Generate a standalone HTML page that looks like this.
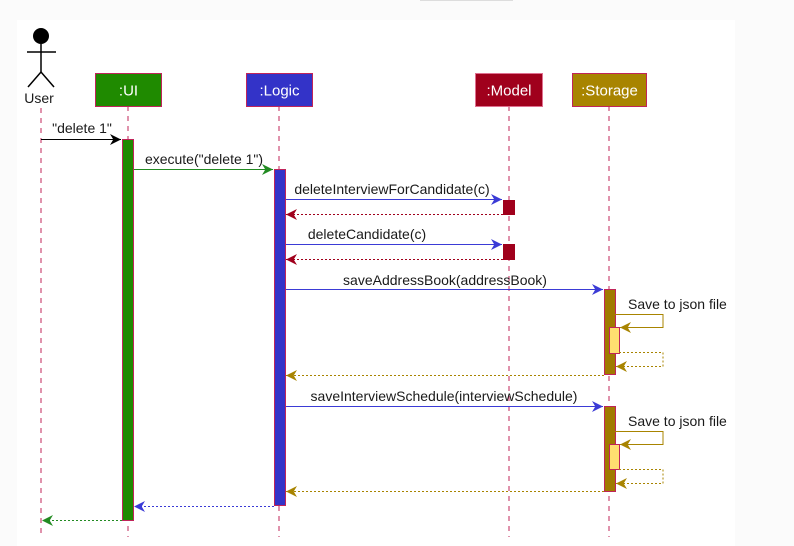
<!DOCTYPE html>
<html><head><meta charset="utf-8"><style>
html,body{margin:0;padding:0;background:#fbfbfb;width:794px;height:546px;overflow:hidden}
svg{display:block}
text{font-family:"Liberation Sans",sans-serif;font-size:14px;fill:#1a1a1a}
</style></head><body>
<svg width="794" height="546" viewBox="0 0 794 546" xmlns="http://www.w3.org/2000/svg">
<defs>
<marker id="ak" viewBox="0 0 10 10" refX="10" refY="5" markerWidth="11" markerHeight="11" orient="auto" markerUnits="userSpaceOnUse"><path d="M0,0 L10,5 L0,10 L3,5 Z" fill="#000"/></marker>
<marker id="ag" viewBox="0 0 10 10" refX="10" refY="5" markerWidth="11" markerHeight="11" orient="auto" markerUnits="userSpaceOnUse"><path d="M0,0 L10,5 L0,10 L3,5 Z" fill="#228b22"/></marker>
<marker id="ab" viewBox="0 0 10 10" refX="10" refY="5" markerWidth="11" markerHeight="11" orient="auto" markerUnits="userSpaceOnUse"><path d="M0,0 L10,5 L0,10 L3,5 Z" fill="#3b3bd6"/></marker>
<marker id="ar" viewBox="0 0 10 10" refX="10" refY="5" markerWidth="11" markerHeight="11" orient="auto" markerUnits="userSpaceOnUse"><path d="M0,0 L10,5 L0,10 L3,5 Z" fill="#a0001c"/></marker>
<marker id="ao" viewBox="0 0 10 10" refX="10" refY="5" markerWidth="11" markerHeight="11" orient="auto" markerUnits="userSpaceOnUse"><path d="M0,0 L10,5 L0,10 L3,5 Z" fill="#a88400"/></marker>
</defs>
<rect x="0" y="0" width="794" height="546" fill="#fbfbfb"/>
<rect x="17" y="20" width="718" height="526" fill="#fff"/>
<line x1="420" y1="0.5" x2="513" y2="0.5" stroke="#ddd"/>
<circle cx="41" cy="36" r="8" fill="#000"/>
<g stroke="#000" stroke-width="1.5" fill="none">
<line x1="41" y1="44" x2="41" y2="72"/><line x1="27" y1="52" x2="56" y2="52"/>
<path d="M28,87 L41,72 L54,87"/></g>
<text x="39" y="103" text-anchor="middle" style="font-size:14px">User</text>
<g stroke="#c0245a" stroke-dasharray="5,5" stroke-width="1">
<line x1="41" y1="108" x2="41" y2="537"/><line x1="128" y1="106" x2="128" y2="537"/>
<line x1="279" y1="106" x2="279" y2="537"/><line x1="509" y1="106" x2="509" y2="537"/>
<line x1="609" y1="106" x2="609" y2="537"/></g>
<rect x="95.5" y="73.5" width="66" height="33" fill="#1f8a00" stroke="#c0245a"/>
<text x="128.5" y="95.5" text-anchor="middle" style="fill:#fff;font-size:15px">:UI</text>
<rect x="246.5" y="73.5" width="66" height="33" fill="#3333c8" stroke="#c0245a"/>
<text x="279.5" y="95.5" text-anchor="middle" style="fill:#fff;font-size:15px">:Logic</text>
<rect x="475.5" y="73.5" width="67" height="33" fill="#a0001c" stroke="#e07090"/>
<text x="509" y="95.5" text-anchor="middle" style="fill:#fff;font-size:15px">:Model</text>
<rect x="572.5" y="73.5" width="74" height="33" fill="#a88400" stroke="#c0245a"/>
<text x="609.5" y="95.5" text-anchor="middle" style="fill:#fff;font-size:15px">:Storage</text>
<rect x="122.5" y="139.5" width="11" height="381" fill="#1f8a00" stroke="#c0245a"/>
<rect x="274.5" y="169.5" width="11" height="336" fill="#3333c8" stroke="#c0245a"/>
<rect x="503.5" y="200.5" width="11" height="14" fill="#a0001c" stroke="#a0001c"/>
<rect x="503.5" y="244.5" width="11" height="15" fill="#a0001c" stroke="#a0001c"/>
<rect x="604.5" y="289.5" width="11" height="85" fill="#a07a00" stroke="#c0245a"/>
<rect x="604.5" y="406.5" width="11" height="85" fill="#a07a00" stroke="#c0245a"/>
<rect x="609.5" y="327.5" width="10" height="26" fill="#ffdf70" stroke="#c0245a"/>
<rect x="609.5" y="444.5" width="10" height="25" fill="#ffdf70" stroke="#c0245a"/>
<line x1="41" y1="139.5" x2="121" y2="139.5" stroke="#000" marker-end="url(#ak)"/>
<text x="82" y="133" text-anchor="middle">"delete 1"</text>
<line x1="134" y1="169.5" x2="273" y2="169.5" stroke="#228b22" marker-end="url(#ag)"/>
<text x="204" y="164" text-anchor="middle">execute("delete 1")</text>
<line x1="286" y1="199.5" x2="502" y2="199.5" stroke="#3b3bd6" marker-end="url(#ab)"/>
<text x="392" y="194" text-anchor="middle">deleteInterviewForCandidate(c)</text>
<line x1="503" y1="214.5" x2="286" y2="214.5" stroke="#a0001c" stroke-dasharray="2,2" marker-end="url(#ar)"/>
<line x1="286" y1="244.5" x2="502" y2="244.5" stroke="#3b3bd6" marker-end="url(#ab)"/>
<text x="367" y="239" text-anchor="middle">deleteCandidate(c)</text>
<line x1="286" y1="259.5" x2="286" y2="259.5"/>
<line x1="503" y1="259.5" x2="286" y2="259.5" stroke="#a0001c" stroke-dasharray="2,2" marker-end="url(#ar)"/>
<line x1="286" y1="289.5" x2="603" y2="289.5" stroke="#3b3bd6" marker-end="url(#ab)"/>
<text x="445" y="285" text-anchor="middle">saveAddressBook(addressBook)</text>
<path d="M615,314.5 H663 V327.5 H620" fill="none" stroke="#a88400" marker-end="url(#ao)"/>
<text x="628" y="309">Save to json file</text>
<path d="M619,352.5 H663 V366.5 H616" fill="none" stroke="#a88400" stroke-dasharray="2,2" marker-end="url(#ao)"/>
<line x1="604" y1="375.5" x2="286" y2="375.5" stroke="#a88400" stroke-dasharray="2,2" marker-end="url(#ao)"/>
<line x1="286" y1="406.5" x2="603" y2="406.5" stroke="#3b3bd6" marker-end="url(#ab)"/>
<text x="444" y="401" text-anchor="middle">saveInterviewSchedule(interviewSchedule)</text>
<path d="M615,431.5 H663 V444.5 H620" fill="none" stroke="#a88400" marker-end="url(#ao)"/>
<text x="628" y="426">Save to json file</text>
<path d="M619,469.5 H663 V483.5 H616" fill="none" stroke="#a88400" stroke-dasharray="2,2" marker-end="url(#ao)"/>
<line x1="604" y1="491.5" x2="286" y2="491.5" stroke="#a88400" stroke-dasharray="2,2" marker-end="url(#ao)"/>
<line x1="274" y1="506.5" x2="134" y2="506.5" stroke="#3b3bd6" stroke-dasharray="2,2" marker-end="url(#ab)"/>
<line x1="122" y1="520.5" x2="42" y2="520.5" stroke="#228b22" stroke-dasharray="2,2" marker-end="url(#ag)"/>
</svg>
</body></html>
